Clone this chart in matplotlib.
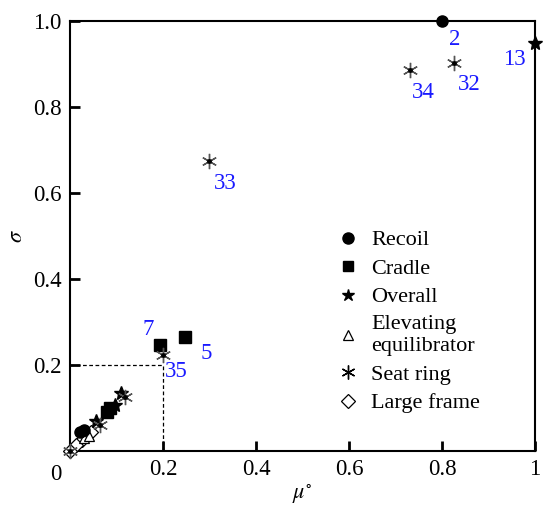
import matplotlib
matplotlib.use('Agg')
from matplotlib import pyplot as plt

# data
recoil_x = [0.80, 0.021, 0.030]
recoil_y = [1.00, 0.045, 0.050]
cradle_x = [0.193, 0.247, 0.079, 0.086]
cradle_y = [0.247, 0.265, 0.091, 0.100]
overall_x = [1.00, 0.109, 0.097, 0.057]
overall_y = [0.949, 0.136, 0.107, 0.070]
elev_x = [0.030, 0.040]
elev_y = [0.030, 0.036]
seat_x = [0.826, 0.732, 0.298, 0.200, 0.118, 0.064, 0.000]
seat_y = [0.902, 0.886, 0.674, 0.223, 0.126, 0.060, 0.000]
frame_x = [0.032, 0.025, 0.014, 0.000, 0.045]
frame_y = [0.037, 0.026, 0.014, 0.000, 0.045]

# numbered points: (label, x, y, dx px, dy px)
labels = [('2', 0.80, 1.00, 13, -19),
          ('13', 1.00, 0.949, -21, -17),
          ('32', 0.826, 0.902, 15, -21),
          ('34', 0.732, 0.886, 13, -22),
          ('33', 0.298, 0.674, 17, -22),
          ('7', 0.193, 0.247, -12, 15),
          ('5', 0.247, 0.265, 21, -16),
          ('35', 0.200, 0.223, 13, -16)]

xticks = [0.2, 0.4, 0.6, 0.8, 1.0]
xticklabels = ['0.2', '0.4', '0.6', '0.8', '1']
yticks = [0.2, 0.4, 0.6, 0.8, 1.0]
yticklabels = ['0.2', '0.4', '0.6', '0.8', '1.0']

plt.rcParams['font.family'] = ['Liberation Serif', 'DejaVu Serif']
plt.rcParams['mathtext.fontset'] = 'stix'

fig = plt.figure(figsize=(5.58, 5.08), dpi=100)
ax = fig.add_axes([0.1254, 0.1122, 0.8334, 0.8465])

ax.plot([0, 0.2], [0.2, 0.2], 'k--', lw=0.9, dashes=(3, 2))
ax.plot([0.2, 0.2], [0, 0.2], 'k--', lw=0.9, dashes=(3, 2))

kw = dict(linestyle='none', clip_on=False)
ax.plot(frame_x, frame_y, marker='D', ms=7, mfc='white', mec='black', mew=0.9, zorder=3, **kw)
ax.plot(elev_x, elev_y, marker='^', ms=7, mfc='white', mec='black', mew=0.9, zorder=3, **kw)
ax.plot(recoil_x, recoil_y, marker='o', ms=8, color='black', zorder=4, **kw)
ax.plot(cradle_x, cradle_y, marker='s', ms=8, color='black', zorder=4, **kw)
ax.plot(overall_x, overall_y, marker='*', ms=10, color='black', zorder=5, **kw)
ax.plot(seat_x, seat_y, marker=(6, 2, 0), ms=11, color='#555555', mew=1.0, zorder=5, **kw)
ax.plot(seat_x, seat_y, marker='o', ms=2.5, color='black', zorder=6, **kw)

for name, x, y, dx, dy in labels:
    ax.annotate(name, (x, y), xytext=(dx, dy), textcoords='offset pixels',
                ha='center', va='center', color='#1a1aff', fontsize=16.5)

# legend
h1, = ax.plot([], [], marker='o', ms=8, color='black', linestyle='none')
h2, = ax.plot([], [], marker='s', ms=7, color='black', linestyle='none')
h3, = ax.plot([], [], marker='*', ms=9, color='black', linestyle='none')
h4, = ax.plot([], [], marker='^', ms=7, mfc='white', mec='black', mew=0.9, linestyle='none')
h5, = ax.plot([], [], marker=(6, 2, 0), ms=10, color='black', linestyle='none')
h6, = ax.plot([], [], marker='D', ms=7, mfc='white', mec='black', mew=0.9, linestyle='none')
leg = ax.legend([h1, h2, h3, h4, h5, h6],
                ['Recoil', 'Cradle', 'Overall', 'Elevating\nequilibrator', 'Seat ring', 'Large frame'],
                loc='upper left', bbox_to_anchor=(0.555, 0.535), frameon=False, fontsize=16,
                handlelength=1.0, handletextpad=0.55, labelspacing=0.36, borderaxespad=0)

ax.set_xlim(0, 1)
ax.set_ylim(0, 1)
ax.set_xticks(xticks)
ax.set_xticklabels(xticklabels)
ax.set_yticks(yticks)
ax.set_yticklabels(yticklabels)
ax.tick_params(direction='in', length=7, width=2, labelsize=16.5, pad=6)
for s in ax.spines.values():
    s.set_linewidth(1.5)
ax.text(-0.03, -0.03, '0', transform=ax.transAxes, ha='center', va='top', fontsize=16.5)

ax.set_xlabel(r'$\mu^{\circ}$', fontsize=16, labelpad=2)
ax.set_ylabel(r'$\sigma$', fontsize=16, labelpad=4)

fig.savefig('out.png', dpi=100)
